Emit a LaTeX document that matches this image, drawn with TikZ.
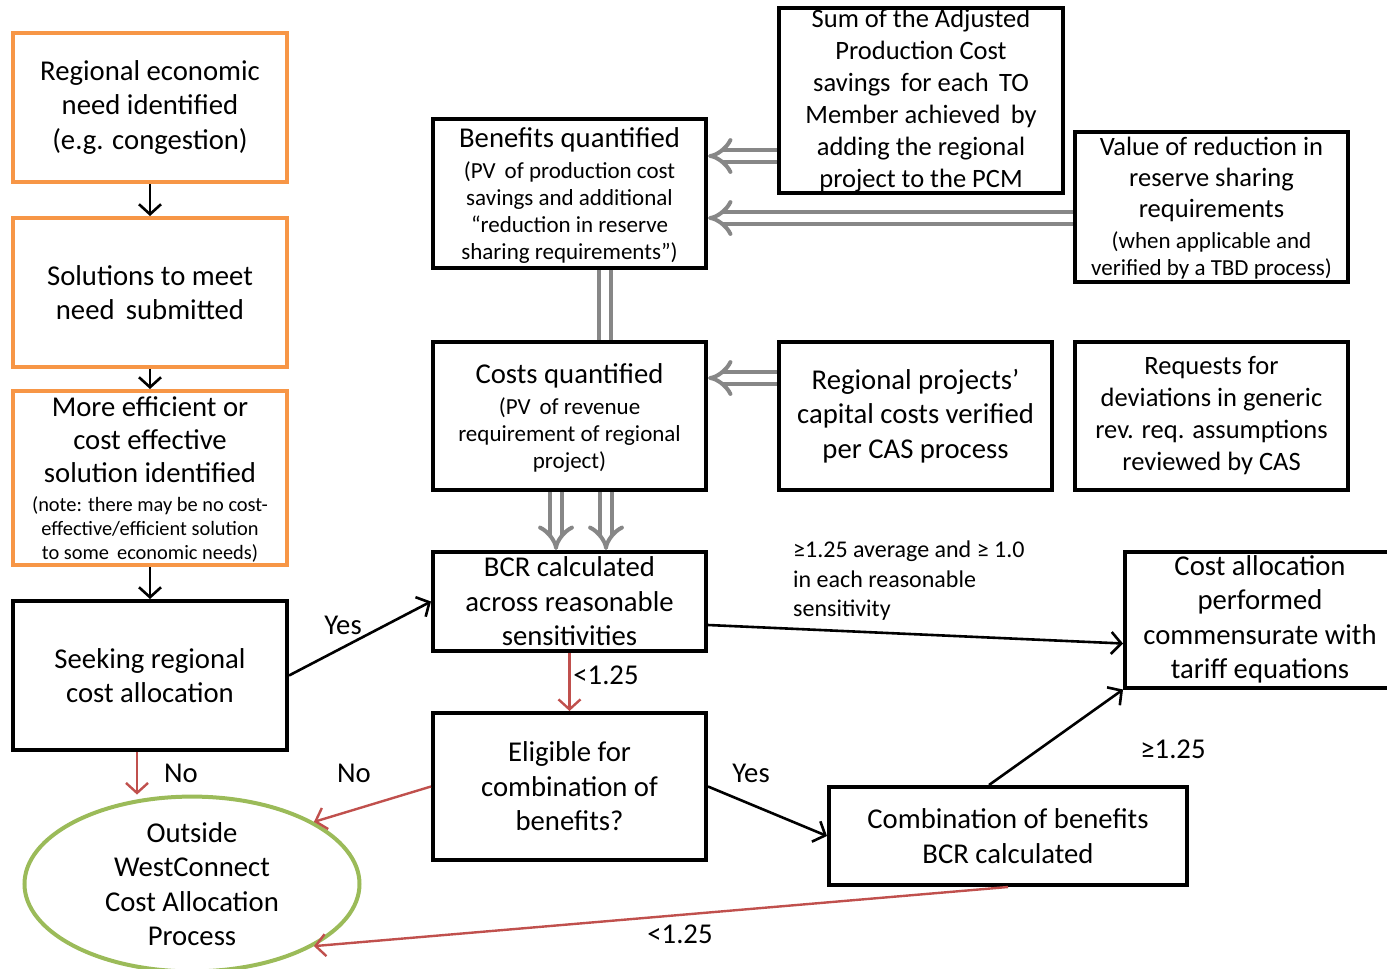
\documentclass[tikz,border=0pt]{standalone}
\usepackage{fontspec}
\setmainfont{Carlito}
\usetikzlibrary{arrows.meta,shapes.geometric}
\definecolor{boxorange}{HTML}{F79646}
\definecolor{ovalgreen}{HTML}{9BBB59}
\definecolor{nored}{HTML}{C0504D}
\definecolor{feedgray}{HTML}{878787}
\newcommand{\mainsize}{\fontsize{28.7}{34.5}\selectfont}
\newcommand{\sidesize}{\fontsize{26.5}{32}\selectfont}
\newcommand{\notesize}{\fontsize{23}{27}\selectfont}
\newcommand{\tinysize}{\fontsize{20.4}{24.5}\selectfont}
\newcommand{\rulerow}[2]{\rule[-#1pt]{0pt}{#2pt}}
\newcommand{\setstack}{\baselineskip=0pt\relax\lineskip=0pt\relax\lineskiplimit=0pt\relax}
\tikzset{
  orangebox/.style={draw=boxorange, line width=4pt, align=center, inner sep=0pt, minimum width=274pt},
  blackbox/.style={draw=black, line width=4pt, align=center, inner sep=0pt},
  stacked/.style={execute at begin node=\setstack},
  flow/.style={line width=2.6pt, -{Straight Barb[length=10pt,width=22pt]}},
  redflow/.style={draw=nored, line width=2.4pt, -{Straight Barb[length=10pt,width=22pt]}},
  grayarrow/.style={draw=feedgray, line width=4pt, double=white, double distance=8pt, -{Implies[scale=1.5]}},
  grayline/.style={draw=feedgray, line width=4pt, double=white, double distance=8pt},
  lbl/.style={font=\mainsize, inner sep=0pt}
}
\begin{document}
\begin{tikzpicture}[x=1pt,y=-1pt]
  \useasboundingbox (0,0) rectangle (1387,969);

  % left column
  \node[orangebox, minimum height=149pt, font=\mainsize] (need) at (150,107.5)
    {Regional economic\\ need identified\\ (e.g. congestion)};
  \node[orangebox, minimum height=149pt, font=\mainsize] (solutions) at (150,292.5)
    {Solutions to meet\\ need\, submitted};
  \node[orangebox, stacked, minimum height=174pt] (efficient) at (150,478)
    {\mainsize\rulerow{7.5}{33}More efficient or\\ \mainsize\rulerow{7.5}{33}cost effective\\
     \mainsize\rulerow{7.5}{33}solution identified\\[2.5pt]
     \tinysize\rulerow{5.5}{24}(note: there may be no cost-\\
     \tinysize\rulerow{5.5}{24}effective/efficient solution\\
     \tinysize\rulerow{5.5}{24}to some\, economic needs)};
  \node[blackbox, minimum width=274pt, minimum height=149pt, font=\mainsize] (seeking) at (150,675.5)
    {Seeking regional\\ cost allocation};
  \node[draw=ovalgreen, line width=4pt, ellipse, minimum width=335pt, minimum height=170pt,
        inner sep=0pt, align=center, font=\mainsize] (outside) at (192,884)
    {Outside\\ WestConnect\\ Cost Allocation\\ Process};

  % middle column
  \node[blackbox, stacked, minimum width=273pt, minimum height=149pt] (benefits) at (569.5,193.5)
    {\mainsize\rulerow{10.5}{36.5}Benefits quantified\\
     \notesize\rulerow{6.5}{27}(PV\, of production cost\\
     \notesize\rulerow{6.5}{27}savings and additional\\
     \notesize\rulerow{6.5}{27}“reduction in reserve\\
     \notesize\rulerow{6.5}{27}sharing requirements”)};
  \node[blackbox, stacked, minimum width=273pt, minimum height=148pt] (costs) at (569.5,416)
    {\mainsize\rulerow{11}{37}Costs quantified\\
     \notesize\rulerow{6.5}{27}(PV\, of revenue\\
     \notesize\rulerow{6.5}{27}requirement of regional\\
     \notesize\rulerow{6.5}{27}project)};
  \node[blackbox, minimum width=273pt, minimum height=99pt, font=\mainsize] (bcr) at (569.5,601.5)
    {BCR calculated\\ across reasonable\\ sensitivities};
  \node[blackbox, minimum width=273pt, minimum height=147pt, font=\mainsize] (eligible) at (569.5,786.5)
    {Eligible for\\ combination of\\ benefits?};

  % right columns
  \node[blackbox, minimum width=284pt, minimum height=185pt, font=\sidesize] (sumadj) at (921,100.5)
    {Sum of the Adjusted\\ Production Cost\\ savings\, for each\, TO\\ Member achieved\, by\\
     adding the regional\\ project to the PCM};
  \node[blackbox, stacked, minimum width=273pt, minimum height=149pt] (valuered) at (1211.5,206.5)
    {\sidesize\rulerow{7}{31}Value of reduction in\\
     \sidesize\rulerow{7}{31}reserve sharing\\
     \sidesize\rulerow{7}{31}requirements\\[3pt]
     \notesize\rulerow{6.5}{27}(when applicable and\\
     \notesize\rulerow{6.5}{27}verified by a TBD process)};
  \node[blackbox, minimum width=273pt, minimum height=148pt, font=\mainsize] (capital) at (915.5,416)
    {Regional projects’\\ capital costs verified\\ per CAS process};
  \node[blackbox, minimum width=273pt, minimum height=148pt, font=\sidesize] (requests) at (1211.5,416)
    {Requests for\\ deviations in generic\\ rev. req. assumptions\\ reviewed by CAS};
  \node[blackbox, minimum width=358pt, minimum height=98pt, font=\mainsize] (combo) at (1008,836)
    {Combination of benefits\\ BCR calculated};
  \node[blackbox, minimum width=270pt, minimum height=136pt, font=\mainsize] (costalloc) at (1260,619.5)
    {Cost allocation\\ performed\\ commensurate with\\ tariff equations};

  % feeding arrows
  \draw[grayarrow] (sumadj.west |- 0,156) -- (benefits.east |- 0,156);
  \draw[grayarrow] (valuered.west |- 0,218) -- (benefits.east |- 0,218);
  \draw[grayline] (benefits.south -| 605,0) -- (costs.north -| 605,0);
  \draw[grayarrow] (capital.west |- 0,378) -- (costs.east |- 0,378);
  \draw[grayarrow] (costs.south -| 556,0) -- (bcr.north -| 556,0);
  \draw[grayarrow] (costs.south -| 606,0) -- (bcr.north -| 606,0);

  % flow
  \draw[flow] (need) -- (solutions);
  \draw[flow] (solutions) -- (efficient);
  \draw[flow] (efficient) -- (seeking);
  \draw[flow] (seeking.east) -- (bcr.west);
  \draw[flow] ([yshift=-23.5pt]bcr.east) -- ([yshift=-24pt]costalloc.west);
  \draw[flow] (eligible.east) -- (combo.west);
  \draw[flow] ([xshift=-19pt]combo.north) -- (costalloc.south west);
  \draw[redflow] ([xshift=-13pt]seeking.south) -- ([xshift=-13pt]seeking.south |- outside.north);
  \draw[redflow] (bcr) -- (eligible);
  \draw[redflow] (eligible.west) -- (outside.27);
  \draw[redflow] (combo.south) -- (outside.-27);

  % labels
  \node[lbl] (yesbcr) at (343,625) {Yes};
  \node[lbl] (noseek) at (181,773) {No};
  \node[lbl] (noelig) at (354,773) {No};
  \node[lbl] (ltbcr) at (606,675) {<1.25};
  \node[lbl] (yeselig) at (751,773) {Yes};
  \node[lbl] (gecombo) at (1173,749) {≥1.25};
  \node[lbl] (ltcombo) at (680,934) {<1.25};
  \node[font=\fontsize{24}{29.5}\selectfont, align=left, anchor=west, inner sep=0pt] (gebcr) at (793,581)
    {≥1.25 average and ≥ 1.0\\ in each reasonable\\ sensitivity};
\end{tikzpicture}
\end{document}
